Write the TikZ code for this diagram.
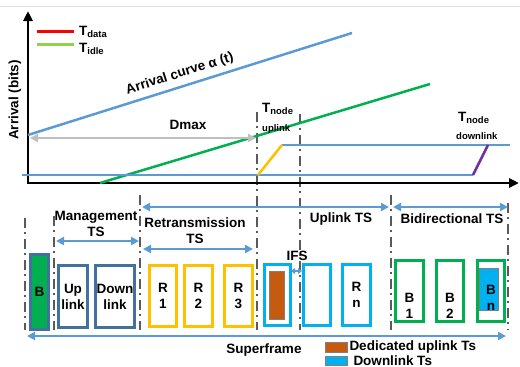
\documentclass[tikz,border=0pt]{standalone}
\usepackage{fontspec}
\setmainfont{Liberation Sans}
\usetikzlibrary{arrows.meta}
\definecolor{curveblue}{HTML}{5B9BD5}
\definecolor{idlegreen}{HTML}{00B050}
\definecolor{legendgreen}{HTML}{92D050}
\definecolor{slotorange}{HTML}{FFC000}
\definecolor{dlpurple}{HTML}{7030A0}
\definecolor{mgmtblue}{HTML}{41719C}
\definecolor{cyanblue}{HTML}{00B0F0}
\definecolor{ulbrown}{HTML}{C55A11}
\definecolor{sepgray}{HTML}{5A5A5A}
\definecolor{dmaxgray}{HTML}{BFBFBF}
\newcommand{\lbl}{\fontsize{13.5}{16}\selectfont\bfseries}
\newcommand{\sublbl}{\fontsize{9.5}{11}\selectfont\bfseries}

\begin{document}
\begin{tikzpicture}[x=1pt,y=1pt,
    every node/.style={inner sep=0pt, font=\lbl},
    axis/.style={draw=black, line width=2.5pt, {Triangle[length=10pt,width=9pt]}-{Triangle[length=10pt,width=9pt]}},
    blueline/.style={draw=curveblue, line width=2.5pt},
    span/.style={draw=curveblue, line width=2.2pt, {Triangle[length=8pt,width=8pt]}-{Triangle[length=8pt,width=8pt]}},
    sep/.style={draw=sepgray, line width=2.5pt, dash pattern=on 10pt off 4pt on 2pt off 5pt},
    slot/.style={draw, line width=3pt, align=center, text=black, minimum height=61pt},
    mslot/.style={slot, draw=mgmtblue, minimum height=62pt},
    rslot/.style={slot, draw=slotorange},
    uslot/.style={slot, draw=cyanblue},
    bslot/.style={slot, draw=idlegreen},
    chip/.style={draw=gray, line width=0.6pt}
  ]
\useasboundingbox (0,0) rectangle (520,-367);
\draw [black!12, line width=1pt] (0,-6) -- (520,-6);
% separators
\foreach \x/\t in {25/218, 54/216, 140/195, 257/112, 300/114, 391/195, 508/203}
  \draw [sep] (\x,-\t) -- (\x,-330);
% axes
\coordinate (ytop) at (28,-11);
\coordinate (orig) at (28,-183);
\coordinate (xend) at (519,-183);
\draw [axis] (ytop) -- (orig) -- (xend);
\node [rotate=90] (ylbl) at (15,-100) {Arrival (bits)};
% legend
\coordinate (rd0) at (37,-31);
\coordinate (rd1) at (74,-31);
\coordinate (gr0) at (37,-44);
\coordinate (gr1) at (74,-44);
\draw [draw=red, line width=3pt] (rd0) -- (rd1);
\draw [draw=legendgreen, line width=3pt] (gr0) -- (gr1);
\node [anchor=base west] (tdata) at (79,-35) {T\textsubscript{data}};
\node [anchor=base west] (tidle) at (79,-52) {T\textsubscript{idle}};
% curves
\coordinate (ac0) at (28,-135);
\coordinate (ac1) at (352,-33);
\draw [blueline] (ac0) -- node [pos=0.48, sloped, above=5pt] (aclbl) {Arrival curve α (t)} (ac1);
\coordinate (ig0) at (100,-183);
\coordinate (ig1) at (430,-84);
\draw [draw=idlegreen, line width=2.5pt] (ig0) -- (ig1);
\coordinate (lo0) at (22,-175);
\coordinate (lo1) at (473,-175);
\coordinate (up0) at (282,-145);
\coordinate (up1) at (510,-145);
\coordinate (ul0) at (258,-175);
\coordinate (dl1) at (488,-145);
\draw [blueline] (lo0) -- (lo1);
\draw [blueline] (up0) -- (up1);
\draw [draw=slotorange, line width=2.5pt] (ul0) -- (up0);
\draw [draw=dlpurple, line width=2.5pt] (lo1) -- (dl1);
\coordinate (dm0) at (30,-138);
\coordinate (dm1) at (256,-138);
\draw [draw=dmaxgray, line width=2.5pt, {Triangle[length=8pt,width=8pt]}-{Triangle[length=8pt,width=8pt]}] (dm0) -- (dm1);
\node (dmax) at (188,-125) {Dmax};
\node [anchor=base west] (tnu) at (262,-112) {T\textsubscript{node}};
\node [anchor=base west, font=\sublbl] (tnul) at (262,-131) {uplink};
\node [anchor=base west] (tnd) at (458,-121) {T\textsubscript{node}};
\node [anchor=base west, font=\sublbl] (tndl) at (456,-139) {downlink};
% time slot spans
\coordinate (ts0) at (142,-207);
\coordinate (ts1) at (389,-207);
\coordinate (bd0) at (393,-207);
\coordinate (bd1) at (508,-207);
\coordinate (mg0) at (56,-241);
\coordinate (mg1) at (139,-241);
\coordinate (rt0) at (143,-249);
\coordinate (rt1) at (253,-249);
\coordinate (if0) at (291,-271);
\coordinate (if1) at (302,-271);
\coordinate (sf0) at (27,-336);
\coordinate (sf1) at (506,-336);
\draw [span] (ts0) -- (ts1);
\draw [span] (bd0) -- (bd1);
\draw [span] (mg0) -- (mg1);
\draw [span] (rt0) -- (rt1);
\draw [draw=curveblue, line width=1.5pt, {Triangle[length=4pt,width=6pt]}-{Triangle[length=4pt,width=6pt]}] (if0) -- (if1);
\draw [span] (sf0) -- (sf1);
\node [align=center] (mgts) at (96,-224) {Management\\TS};
\node [align=center] (rtts) at (195,-231) {Retransmission\\TS};
\node (ults) at (341,-219) {Uplink TS};
\node (bdts) at (452,-219) {Bidirectional TS};
\node (ifs) at (297,-256) {IFS};
\node (sframe) at (264,-350) {Superframe};
% slots
\node [slot, draw=mgmtblue, fill=idlegreen, minimum width=18pt, minimum height=75pt] (bcn) at (39.5,-292) {B};
\node [mslot, minimum width=29pt] (upl) at (73,-296.5) {Up\\link};
\node [mslot, minimum width=39pt] (dnl) at (115,-296.5) {Down\\link};
\node [rslot, minimum width=27pt] (r1) at (163,-296) {R\\1};
\node [rslot, minimum width=28pt] (r2) at (198.5,-296) {R\\2};
\node [rslot, minimum width=28pt] (r3) at (238.5,-296) {R\\3};
\node [uslot, minimum width=26pt] (d1) at (277.5,-295) {};
\node [uslot, minimum width=27pt] (d2) at (317,-295) {};
\node [uslot, minimum width=28pt] (rn) at (356.5,-295) {R\\n};
\node [bslot, minimum width=28pt] (b1) at (409.5,-291) {};
\node [bslot, minimum width=27pt] (b2) at (450,-291) {};
\node [bslot, minimum width=27pt] (bn) at (491,-291) {};
\node [chip, fill=ulbrown, minimum width=15pt, minimum height=48pt] (ded) at (276.5,-295) {};
\node [chip, fill=cyanblue, minimum width=19pt, minimum height=42pt] (dwn) at (488.5,-289) {};
\node [align=center] (b1l) at ([yshift=-15pt]b1.center) {B\\1};
\node [align=center] (b2l) at ([yshift=-15pt]b2.center) {B\\2};
\node [align=center] (bnl) at ([yshift=-7pt]bn.center) {B\\n};
% key
\node [chip, fill=ulbrown, minimum width=22pt, minimum height=10pt] (keyu) at (336,-347) {};
\node [chip, fill=cyanblue, minimum width=22pt, minimum height=9pt] (keyd) at (336,-360.5) {};
\node [anchor=west] (keyut) at ([xshift=2pt]keyu.east) {Dedicated uplink Ts};
\node [anchor=west] (keydt) at ([xshift=6pt]keyd.east) {Downlink Ts};
\end{tikzpicture}
\end{document}
